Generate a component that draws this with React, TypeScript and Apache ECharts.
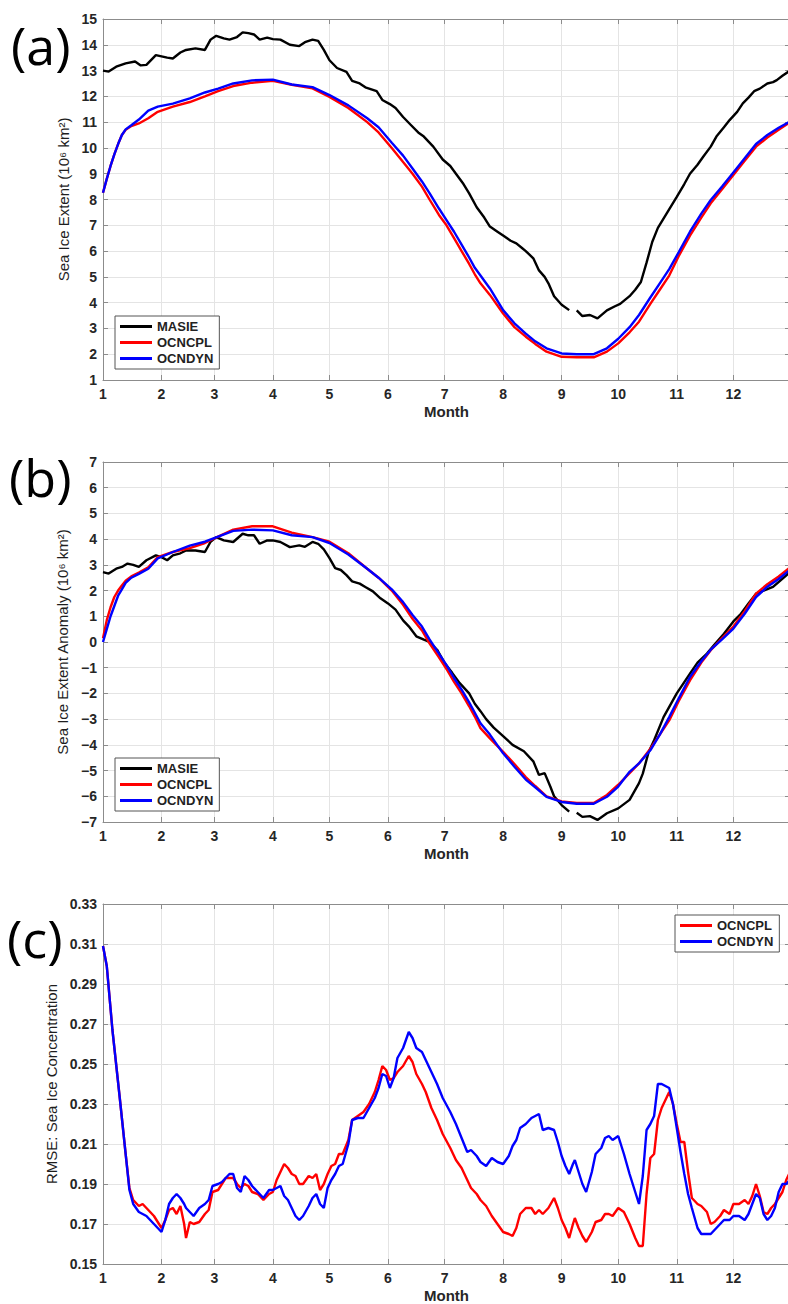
import React, { useEffect, useRef } from 'react';
import * as echarts from 'echarts';

// ---------- axis ticks ----------
const monthStarts = [1, 32, 60, 91, 121, 152, 182, 213, 244, 274, 305, 335];
const rmseTicks = [0.15, 0.17, 0.19, 0.21, 0.23, 0.25, 0.27, 0.29, 0.31, 0.33];

// ---------- panel (a): sea ice extent ----------
const masieADays = [1,4,8,13,18,21,24,29,32,35,38,42,45,50,55,58,61,65,68,72,75,78,81,84,88,91,95,100,105,108,112,115,118,121,125,130,133,137,140,146,149,153,156,160,164,168,171,176,181,185,188,192,195,199,203,206,210,213,217,220,223,225,229,232,235,237,240,244,248,250,252,255,259,263,268,272,275,280,283,286,289,292,295,300,305,309,312,316,319,323,326,330,333,337,340,343,346,349,353,356,358,361,365];
const masieAVals = [
  13.0,12.96,13.15,13.28,13.35,13.2,13.22,13.6,13.55,13.5,
  13.47,13.7,13.8,13.86,13.8,14.2,14.35,14.25,14.2,14.3,
  14.48,14.45,14.4,14.2,14.28,14.22,14.2,14.0,13.95,14.1,
  14.2,14.15,13.8,13.4,13.1,12.95,12.6,12.5,12.35,12.2,
  11.86,11.7,11.55,11.2,10.9,10.6,10.44,10.05,9.55,9.3,
  9.0,8.6,8.24,7.7,7.3,6.95,6.75,6.6,6.4,6.3,
  6.12,6.0,5.72,5.25,5.0,4.75,4.25,3.92,3.71,null,
  3.7,3.48,3.52,3.39,3.7,3.85,3.95,4.25,4.5,4.8,
  5.55,6.35,6.9,7.5,8.1,8.6,9.0,9.35,9.66,10.05,
  10.44,10.8,11.08,11.4,11.73,11.95,12.2,12.3,12.5,12.55,
  12.63,12.8,13.0
];

const modelDays = [1,3,5,7,9,11,13,16,20,25,30,38,47,55,62,70,80,91,101,112,121,131,141,147,154,160,165,170,174,179,183,187,191,195,198,201,206,213,219,225,230,236,244,252,261,268,274,280,285,291,296,301,306,312,318,323,329,335,341,347,353,359,365];
const ocncplA = [
  8.26,8.8,9.3,9.75,10.15,10.5,10.7,10.85,10.95,11.15,
  11.4,11.6,11.78,12.0,12.2,12.4,12.53,12.6,12.45,12.31,
  11.98,11.55,11.0,10.6,10.0,9.45,9.0,8.5,8.0,7.4,
  7.0,6.5,6.0,5.5,5.1,4.75,4.3,3.58,3.05,2.68,
  2.4,2.1,1.9,1.88,1.88,2.1,2.42,2.85,3.26,3.95,
  4.5,5.05,5.8,6.6,7.3,7.85,8.4,8.95,9.5,10.05,
  10.4,10.7,11.0
];
const ocndynA = [
  8.26,8.8,9.3,9.75,10.15,10.5,10.72,10.88,11.1,11.45,
  11.6,11.72,11.92,12.15,12.3,12.5,12.62,12.65,12.46,12.36,
  12.05,11.65,11.15,10.8,10.2,9.7,9.2,8.7,8.25,7.65,
  7.2,6.75,6.25,5.75,5.35,5.05,4.55,3.71,3.2,2.8,
  2.5,2.23,2.03,2.0,2.0,2.23,2.6,3.05,3.52,4.2,
  4.75,5.3,5.95,6.75,7.45,7.98,8.5,9.05,9.6,10.15,
  10.5,10.78,11.02
];

// ---------- panel (b): sea ice extent anomaly ----------
const masieBDays = [1,4,8,11,14,17,20,24,29,32,35,38,42,45,50,55,58,61,65,70,75,78,81,84,88,91,95,100,105,108,112,115,118,121,124,127,130,133,137,140,144,148,152,156,160,163,167,171,174,178,182,186,190,195,198,201,204,208,213,218,224,229,232,235,238,240,244,248,250,252,255,259,263,268,274,280,285,287,290,293,298,305,312,316,321,325,330,335,339,343,347,351,356,360,365];
const masieBVals = [
  2.72,2.66,2.85,2.92,3.05,3.0,2.92,3.18,3.37,3.3,
  3.18,3.37,3.45,3.56,3.56,3.5,3.9,4.08,3.95,3.89,
  4.21,4.15,4.15,3.82,3.95,3.95,3.89,3.69,3.76,3.7,
  3.89,3.82,3.6,3.26,2.87,2.8,2.6,2.36,2.27,2.14,
  1.97,1.7,1.5,1.26,0.84,0.61,0.22,0.09,0.0,-0.3,
  -0.82,-1.2,-1.6,-2.0,-2.4,-2.69,-3.0,-3.33,-3.66,-4.0,
  -4.25,-4.64,-5.17,-5.1,-5.62,-6.0,-6.34,-6.6,null,-6.64,
  -6.8,-6.77,-6.92,-6.66,-6.47,-6.14,-5.49,-5.12,-4.3,-3.82,
  -2.92,-2.0,-1.23,-0.8,-0.45,-0.1,0.32,0.8,1.1,1.5,
  1.88,2.0,2.14,2.4,2.72
];
const ocncplB = [
  0.15,0.85,1.35,1.75,2.0,2.2,2.38,2.55,2.7,2.9,
  3.3,3.5,3.65,3.85,4.1,4.37,4.5,4.5,4.25,4.08,
  3.9,3.45,2.85,2.5,2.0,1.45,0.9,0.45,-0.05,-0.6,
  -1.05,-1.55,-2.0,-2.5,-2.9,-3.35,-3.75,-4.27,-4.75,-5.25,
  -5.6,-6.0,-6.2,-6.26,-6.26,-5.95,-5.55,-5.1,-4.72,-4.15,
  -3.6,-3.05,-2.3,-1.49,-0.8,-0.32,0.15,0.6,1.2,1.88,
  2.25,2.55,2.9
];
const ocndynB = [
  0.0,0.5,1.0,1.4,1.8,2.05,2.3,2.5,2.65,2.85,
  3.25,3.5,3.75,3.9,4.1,4.32,4.37,4.34,4.15,4.08,
  3.85,3.4,2.85,2.5,2.05,1.55,1.05,0.6,0.1,-0.45,
  -0.9,-1.4,-1.85,-2.35,-2.75,-3.16,-3.6,-4.33,-4.85,-5.35,
  -5.65,-6.02,-6.22,-6.29,-6.29,-6.02,-5.62,-5.05,-4.72,-4.21,
  -3.6,-2.92,-2.2,-1.36,-0.75,-0.3,0.1,0.52,1.1,1.75,
  2.15,2.45,2.8
];

// ---------- panel (c): RMSE of sea ice concentration ----------
const rmseDays = [1,3,6,10,13,15,17,20,22,24,26,28,30,32,34,36,38,40,42,44,45,47,49,52,55,57,59,62,64,66,68,70,72,74,76,78,80,83,86,89,91,93,95,97,99,101,103,105,107,110,112,114,116,118,120,122,124,126,128,131,133,136,139,142,145,147,149,151,153,155,157,160,163,165,167,170,172,175,178,181,185,188,191,194,196,199,201,204,207,210,213,216,218,220,222,225,228,230,232,234,237,240,242,244,246,248,250,251,253,255,257,260,262,265,267,269,271,274,277,280,283,285,287,289,291,293,295,297,299,301,303,305,307,309,311,313,316,318,321,323,325,328,330,333,335,338,341,343,345,347,349,351,353,355,357,359,361,363,365];
const rmseOcncpl = [
  0.309,0.299,0.267,0.232,0.205,0.188,0.182,0.179,0.180,0.178,
  0.176,0.174,0.171,0.168,0.172,0.177,0.178,0.175,0.179,0.170,
  0.163,0.171,0.170,0.171,0.175,0.177,0.186,0.187,0.190,0.193,
  0.193,0.193,0.190,0.188,0.190,0.189,0.186,0.185,0.182,0.185,
  0.186,0.192,0.196,0.200,0.198,0.195,0.194,0.190,0.190,0.194,
  0.193,0.195,0.187,0.190,0.195,0.199,0.200,0.205,0.205,0.212,
  0.222,0.224,0.226,0.230,0.236,0.242,0.249,0.247,0.242,0.243,
  0.246,0.249,0.254,0.251,0.245,0.240,0.236,0.228,0.222,0.215,
  0.208,0.202,0.198,0.192,0.188,0.185,0.182,0.179,0.174,0.170,
  0.166,0.165,0.164,0.168,0.175,0.178,0.178,0.175,0.177,0.175,
  0.178,0.183,0.178,0.172,0.168,0.163,0.170,0.173,0.168,0.164,
  0.161,0.166,0.171,0.172,0.175,0.175,0.174,0.178,0.176,0.170,
  0.163,0.159,0.159,0.185,0.203,0.205,0.222,0.228,0.232,0.236,
  0.230,0.220,0.211,0.211,0.196,0.183,0.180,0.179,0.176,0.170,
  0.171,0.174,0.177,0.175,0.180,0.180,0.182,0.180,0.184,0.190,
  0.184,0.176,0.175,0.178,0.180,0.183,0.186,0.192,0.196
];
const rmseOcndyn = [
  0.309,0.299,0.267,0.232,0.205,0.187,0.180,0.176,0.175,0.174,
  0.172,0.170,0.168,0.166,0.172,0.180,0.183,0.185,0.183,0.180,
  0.178,0.176,0.174,0.178,0.180,0.182,0.189,0.190,0.191,0.193,
  0.195,0.195,0.188,0.186,0.194,0.192,0.189,0.186,0.183,0.187,
  0.187,0.188,0.189,0.184,0.182,0.178,0.174,0.172,0.174,0.179,
  0.183,0.185,0.180,0.178,0.188,0.192,0.195,0.199,0.200,0.210,
  0.222,0.223,0.223,0.228,0.233,0.238,0.245,0.244,0.238,0.243,
  0.253,0.258,0.266,0.263,0.258,0.256,0.252,0.246,0.240,0.233,
  0.226,0.220,0.213,0.206,0.207,0.204,0.201,0.199,0.203,0.201,
  0.200,0.204,0.209,0.212,0.218,0.220,0.223,0.224,0.225,0.217,
  0.218,0.217,0.211,0.204,0.199,0.195,0.200,0.202,0.196,0.190,
  0.186,0.196,0.205,0.208,0.213,0.214,0.212,0.214,0.205,0.195,
  0.186,0.180,0.194,0.217,0.220,0.224,0.240,0.240,0.239,0.238,
  0.230,0.218,0.206,0.195,0.185,0.178,0.168,0.165,0.165,0.165,
  0.167,0.170,0.172,0.172,0.174,0.174,0.172,0.175,0.180,0.185,
  0.183,0.175,0.172,0.174,0.178,0.186,0.190,0.190,0.192
];

// ---------- styling ----------
const FONT = '"Liberation Sans", Arial, sans-serif';
const AXIS_GRAY = '#8c8c8c';
const GRID_GRAY = '#e4e4e4';
const TEXT = '#262626';
const COLORS: Record<string, string> = { MASIE: '#000000', OCNCPL: '#ff0000', OCNDYN: '#0000ff' };

const zip = (xs: number[], ys: (number | null)[]) => xs.map((x, i) => [x, ys[i]]);
const fmtNum = (v: number) => (v < 0 ? '\u2212' + Math.abs(v) : String(v));

function buildOption() {
  const grids = [
    { left: 103, top: 19, width: 687, height: 361 },
    { left: 103, top: 462, width: 687, height: 360 },
    { left: 103, top: 904, width: 687, height: 360 },
  ];
  const xAxis: any[] = [];
  const yAxis: any[] = [];
  const yCfg = [
    { min: 1, max: 15, interval: 1, name: 'Sea Ice Extent (10\u2076 km\u00b2)', gap: 26, fmt: fmtNum },
    { min: -7, max: 7, interval: 1, name: 'Sea Ice Extent Anomaly (10\u2076 km\u00b2)', gap: 28, fmt: fmtNum },
    { min: 0.15, max: 0.33, interval: 0, name: 'RMSE: Sea Ice Concentration', gap: 39, fmt: (v: number) => v.toFixed(2) },
  ];
  grids.forEach((_, i) => {
    xAxis.push({
      type: 'value', gridIndex: i, position: 'bottom', min: 1, max: 365,
      name: 'Month', nameLocation: 'middle', nameGap: 24,
      nameTextStyle: { fontFamily: FONT, fontSize: 15, fontWeight: 'bold', color: TEXT },
      axisLine: { show: true, onZero: false, lineStyle: { color: AXIS_GRAY, width: 1 } },
      axisTick: { show: true, inside: true, length: 5, customValues: monthStarts, lineStyle: { color: AXIS_GRAY } },
      axisLabel: {
        show: true, customValues: monthStarts, margin: 7,
        formatter: (v: number) => String(monthStarts.indexOf(v) + 1),
        fontFamily: FONT, fontSize: 14, fontWeight: 'bold', color: TEXT,
      },
      splitLine: { show: true, lineStyle: { color: GRID_GRAY, width: 1 } },
    });
    xAxis.push({
      type: 'value', gridIndex: i, position: 'top', min: 1, max: 365,
      axisLine: { show: true, onZero: false, lineStyle: { color: AXIS_GRAY, width: 1 } },
      axisTick: { show: true, inside: true, length: 5, customValues: monthStarts, lineStyle: { color: AXIS_GRAY } },
      axisLabel: { show: false },
      splitLine: { show: false },
    });
    const c = yCfg[i];
    const base: any = { type: 'value', gridIndex: i, min: c.min, max: c.max };
    const tickOpts: any = { show: true, inside: true, length: 5, lineStyle: { color: AXIS_GRAY } };
    const labelOpts: any = {
      show: true, margin: 6, formatter: c.fmt,
      fontFamily: FONT, fontSize: 14, fontWeight: 'bold', color: TEXT,
    };
    if (c.interval) {
      base.interval = c.interval;
    } else {
      tickOpts.customValues = rmseTicks;
      labelOpts.customValues = rmseTicks;
    }
    yAxis.push({
      ...base, position: 'left',
      name: c.name, nameLocation: 'middle', nameGap: c.gap, nameRotate: 90,
      nameTextStyle: { fontFamily: FONT, fontSize: 15, color: '#1e1e1e' },
      axisLine: { show: true, onZero: false, lineStyle: { color: AXIS_GRAY, width: 1 } },
      axisTick: tickOpts,
      axisLabel: labelOpts,
      splitLine: { show: true, lineStyle: { color: GRID_GRAY, width: 1 } },
    });
    yAxis.push({
      ...base, position: 'right',
      axisLine: { show: true, onZero: false, lineStyle: { color: AXIS_GRAY, width: 1 } },
      axisTick: { ...tickOpts },
      axisLabel: { show: false },
      splitLine: { show: false },
    });
  });

  const mk = (name: string, panel: number, data: any[]) => ({
    type: 'line', name, xAxisIndex: panel * 2, yAxisIndex: panel * 2,
    data, showSymbol: false, symbol: 'none', connectNulls: false,
    lineStyle: { color: COLORS[name], width: 2.4 },
    itemStyle: { color: COLORS[name] },
    emphasis: { disabled: true },
  });

  const series = [
    mk('MASIE', 0, zip(masieADays, masieAVals)),
    mk('OCNCPL', 0, zip(modelDays, ocncplA)),
    mk('OCNDYN', 0, zip(modelDays, ocndynA)),
    mk('MASIE', 1, zip(masieBDays, masieBVals)),
    mk('OCNCPL', 1, zip(modelDays, ocncplB)),
    mk('OCNDYN', 1, zip(modelDays, ocndynB)),
    mk('OCNCPL', 2, zip(rmseDays, rmseOcncpl)),
    mk('OCNDYN', 2, zip(rmseDays, rmseOcndyn)),
  ];

  const legendBase = {
    orient: 'vertical', icon: 'rect', itemWidth: 32, itemHeight: 3, itemGap: 3,
    padding: [4, 6, 4, 5], backgroundColor: '#ffffff', borderColor: '#555555', borderWidth: 1,
    selectedMode: false,
    textStyle: { fontFamily: FONT, fontSize: 13, fontWeight: 'bold', color: '#222222' },
  };
  const legend = [
    { ...legendBase, left: 115, top: 316, data: ['MASIE', 'OCNCPL', 'OCNDYN'] },
    { ...legendBase, left: 115, top: 758, data: ['MASIE', 'OCNCPL', 'OCNDYN'] },
    { ...legendBase, left: 675, top: 915, data: ['OCNCPL', 'OCNDYN'] },
  ];

  const panelLabel = (text: string, left: number, top: number) => ({
    type: 'text', left, top, z: 100,
    style: { text, fontFamily: '"Open Sans", "Noto Sans", sans-serif', fontSize: 52, fill: '#000000' },
  });

  return {
    animation: false,
    backgroundColor: '#ffffff',
    grid: grids.map((g) => ({ ...g, containLabel: false, outerBoundsMode: 'none' })),
    xAxis, yAxis, series, legend,
    graphic: [panelLabel('(a)', 11, 18), panelLabel('(b)', 9, 450), panelLabel('(c)', 7, 911)],
  };
}

export default function App() {
  const ref = useRef<HTMLDivElement>(null);
  useEffect(() => {
    if (!ref.current) return;
    const chart = echarts.init(ref.current, undefined, { renderer: 'svg' });
    chart.setOption(buildOption() as any);
    return () => chart.dispose();
  }, []);
  return (
    <div
      ref={ref}
      style={{ position: 'absolute', left: 0, top: 0, width: 788, height: 1304, background: '#fff' }}
    />
  );
}
